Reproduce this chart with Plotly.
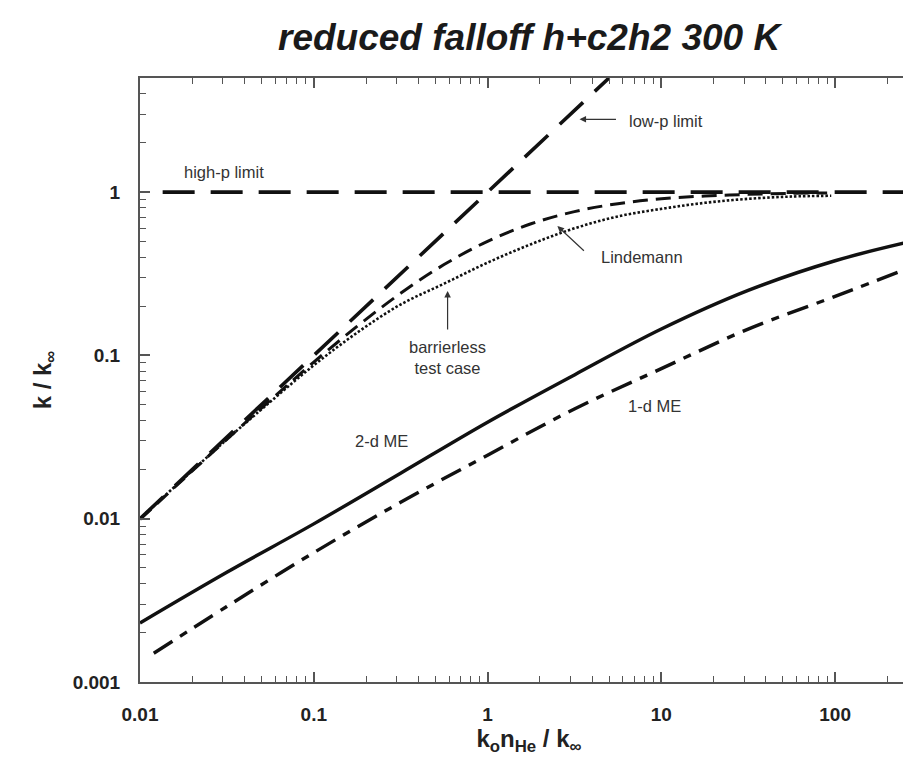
import plotly.graph_objects as go

# ---------------- data ----------------
highp_x = [0.0135, 300]
highp_y = [1.0, 1.0]

lowp_x = [0.01, 5.0]
lowp_y = [0.01, 5.0]

lind_x = [0.01, 0.0178, 0.0316, 0.0562, 0.1, 0.178, 0.316, 0.562, 1.0, 1.78, 3.16, 5.62, 10, 17.8, 31.6, 56.2, 90]
lind_y = [0.0099, 0.0175, 0.0306, 0.0532, 0.091, 0.151, 0.240, 0.360, 0.50, 0.64, 0.76, 0.85, 0.91, 0.947, 0.969, 0.983, 0.989]

barr_x = [0.0108, 0.0178, 0.0316, 0.0562, 0.1, 0.178, 0.316, 0.562, 1.0, 1.78, 3.16, 5.62, 10, 17.8, 31.6, 56.2, 95]
barr_y = [0.0108, 0.0176, 0.0306, 0.052, 0.087, 0.138, 0.205, 0.275, 0.37, 0.48, 0.60, 0.71, 0.79, 0.86, 0.91, 0.94, 0.95]

me2_x = [0.01, 0.0316, 0.1, 0.316, 1.0, 3.16, 10, 31.6, 100, 300]
me2_y = [0.0023, 0.0047, 0.0093, 0.019, 0.039, 0.076, 0.145, 0.25, 0.38, 0.51]

me1_x = [0.012, 0.0316, 0.1, 0.316, 1.0, 3.16, 10, 31.6, 100, 300]
me1_y = [0.0015, 0.0029, 0.0062, 0.0126, 0.0245, 0.047, 0.083, 0.145, 0.23, 0.36]

# ---------------- figure ----------------
INK = "#111111"
FONT = "Liberation Sans, Arial, sans-serif"
fig = go.Figure()

fig.add_trace(go.Scatter(x=lowp_x, y=lowp_y, mode="lines",
                         line=dict(color=INK, width=3.6, dash="32px,16px")))
fig.add_trace(go.Scatter(x=highp_x, y=highp_y, mode="lines",
                         line=dict(color=INK, width=3.6, dash="32px,16px")))
fig.add_trace(go.Scatter(x=lind_x, y=lind_y, mode="lines", line_shape="spline",
                         line=dict(color=INK, width=3.0, dash="15px,8px")))
fig.add_trace(go.Scatter(x=barr_x, y=barr_y, mode="lines", line_shape="spline",
                         line=dict(color=INK, width=2.6, dash="2.5px,2px")))
fig.add_trace(go.Scatter(x=me2_x, y=me2_y, mode="lines", line_shape="spline",
                         line=dict(color=INK, width=3.4)))
fig.add_trace(go.Scatter(x=me1_x, y=me1_y, mode="lines", line_shape="spline",
                         line=dict(color=INK, width=3.4, dash="22px,9px,8px,9px")))

tickfont = dict(family=FONT, size=19, color="#222222", weight="bold")
axis_common = dict(
    type="log", showgrid=False, zeroline=False, showline=True, automargin=False,
    linecolor="#555555", linewidth=2, mirror="ticks",
    ticks="inside", ticklen=10, tickwidth=1.5, tickcolor="#555555",
    tickmode="linear", tick0=0, dtick=1, tickfont=tickfont,
    ticklabelstandoff=14,
    minor=dict(dtick="D1", ticks="inside", ticklen=6,
               tickwidth=1.3, tickcolor="#555555", showgrid=False),
)

fig.update_xaxes(
    **axis_common,
    range=[-2, 2.477],
    title=dict(text="<b>k<sub>o</sub>n<sub>He</sub> / k<sub>∞</sub></b>",
               font=dict(family=FONT, size=24, color="#222222"),
               standoff=6),
)
fig.update_yaxes(
    **axis_common,
    range=[-3, 0.699],
    title=dict(text="<b>k / k<sub>∞</sub></b>",
               font=dict(family=FONT, size=24, color="#222222"),
               standoff=14),
)

afont = dict(family=FONT, size=16.5, color="#333333")
annos = [
    dict(x=-1.517, y=0.122, text="high-p limit", showarrow=False),
    dict(x=0.805, y=0.434, text="low-p limit", showarrow=False, xanchor="left"),
    dict(x=0.529, y=0.446, text="", showarrow=True, ax=38, ay=0),
    dict(x=0.891, y=-0.397, text="Lindemann", showarrow=False),
    dict(x=0.402, y=-0.208, text="", showarrow=True, ax=28, ay=26),
    dict(x=-0.230, y=-1.014, text="barrierless<br>test case", showarrow=False),
    dict(x=-0.230, y=-0.605, text="", showarrow=True, ax=0, ay=40),
    dict(x=-0.609, y=-1.521, text="2-d ME", showarrow=False),
    dict(x=0.960, y=-1.307, text="1-d ME", showarrow=False),
]
for a in annos:
    a.update(xref="x", yref="y", font=afont)
    if a.get("showarrow"):
        a.update(arrowhead=2, arrowsize=1.1, arrowwidth=1.2, arrowcolor="#333333")
    fig.add_annotation(**a)

fig.update_layout(
    width=911, height=764,
    margin=dict(l=132, r=1, t=70, b=90, autoexpand=False),
    paper_bgcolor="white", plot_bgcolor="white",
    showlegend=False,
    title=dict(text="<b><i>reduced falloff h+c2h2 300 K</i></b>",
               font=dict(family=FONT, size=37, color="#1a1a1a"),
               x=0.572, xanchor="center", y=0.962, yanchor="middle"),
)

fig.write_html("out.html")
